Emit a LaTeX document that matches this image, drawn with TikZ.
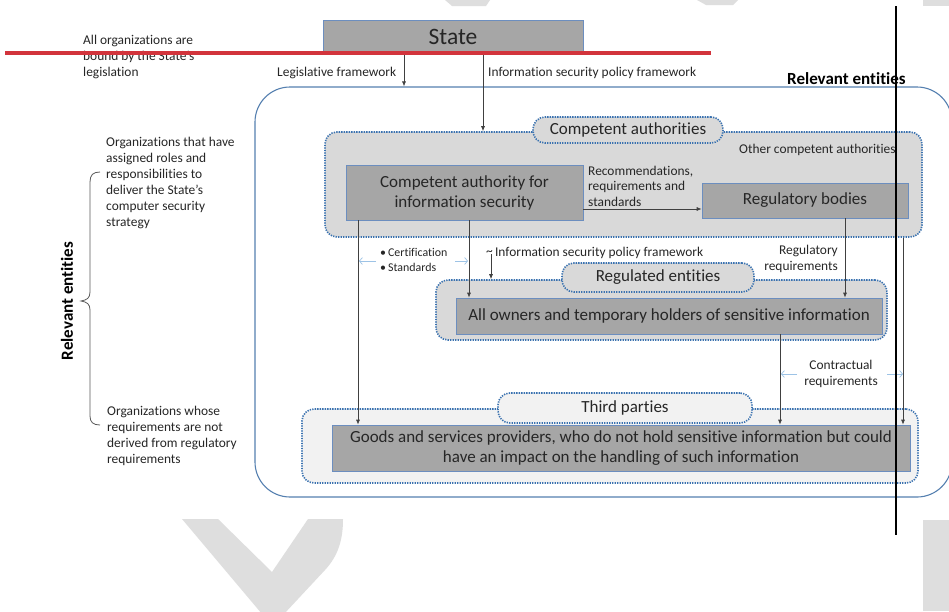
\documentclass[tikz,border=0pt]{standalone}
\usepackage{fontspec}
\setmainfont{Carlito}[Ligatures=NoCommon]
\usetikzlibrary{arrows.meta}
\definecolor{boxgray}{HTML}{A6A6A6}
\definecolor{groupgray}{HTML}{D9D9D9}
\definecolor{lightgroup}{HTML}{F2F2F2}
\definecolor{boxedge}{HTML}{6C8EBF}
\definecolor{dotblue}{HTML}{3A72B0}
\definecolor{outerblue}{HTML}{5580B0}
\definecolor{hintblue}{HTML}{9DC3E6}
\definecolor{wmgray}{HTML}{DEDEDE}
\definecolor{linegray}{HTML}{404040}
\definecolor{redline}{HTML}{D2343C}
\definecolor{ink}{HTML}{262626}
\tikzset{
  solidbox/.style={draw=boxedge, line width=0.7pt, fill=boxgray, inner sep=0pt, align=center,
    font=\fontsize{17}{20}\selectfont, text=ink},
  dotgroup/.style={draw=dotblue, line width=1.6pt, dash pattern=on 1.3pt off 1.2pt,
    rounded corners=12pt, inner sep=0pt},
  tabbox/.style={dotgroup, align=center, font=\fontsize{17}{20}\selectfont, text=ink},
  arr/.style={draw=linegray, line width=0.7pt, -{Latex[length=5pt,width=4pt]}},
  hint/.style={draw=hintblue, line width=0.7pt, -{Straight Barb[length=3pt,width=7pt]}},
  lbl/.style={inner sep=0pt, align=left, font=\fontsize{13.4}{16}\selectfont, text=ink},
  slbl/.style={inner sep=0pt, align=left, font=\fontsize{11.9}{15}\selectfont, text=ink},
}
\begin{document}
\begin{tikzpicture}[x=1pt, y=-1pt]
\useasboundingbox (0,0) rectangle (949,611);
\fill[white] (0,0) rectangle (949,611);

% faint watermark strokes in the background
\fill[wmgray] (182,519) -- (218,519) -- (272,572) -- (308,519) -- (343,519)
  .. controls (343,540) and (338,556) .. (325,570) -- (284,614) -- (262,614) -- cycle;
\fill[wmgray] (445,0) -- (490,0) -- (486,6) -- (452,6) -- cycle;
\fill[wmgray] (697,0) -- (738,0) -- (733,5) -- (706,5) -- cycle;
\fill[wmgray] (923,0) rectangle (949,6);
\fill[wmgray] (923,520) rectangle (949,611);

% outer frame of the relevant entities
\node[draw=outerblue, line width=1.1pt, rounded corners=35pt, minimum width=697pt,
  minimum height=410pt, inner sep=0pt] (big) at (603.5,292) {};

% State
\node[solidbox, minimum width=260pt, minimum height=33pt, font=\fontsize{23.5}{26}\selectfont]
  (state) at (453,36.5) {State};

% competent authorities group
\node[dotgroup, fill=groupgray, minimum width=597pt, minimum height=105pt] (cag) at (623.5,184.5) {};
\node[tabbox, fill=groupgray, minimum width=190pt, minimum height=26pt] (cat) at (628,130) {Competent authorities};
\node[solidbox, minimum width=237pt, minimum height=55pt] (cab) at (464.5,192.5)
  {Competent authority for\\information security};
\node[solidbox, minimum width=206pt, minimum height=35pt] (rb) at (805,200.5) {Regulatory bodies};
\node[lbl, anchor=base west] (oca) at (739,153) {Other competent authorities};

% regulated entities group
\node[dotgroup, fill=groupgray, minimum width=451pt, minimum height=60pt] (reg) at (661.5,310) {};
\node[tabbox, fill=groupgray, minimum width=192pt, minimum height=29pt] (regt) at (658,277.5) {Regulated entities};
\node[solidbox, minimum width=426pt, minimum height=36pt] (own) at (669,316)
  {All owners and temporary holders of sensitive information};

% third parties group
\node[dotgroup, fill=lightgroup, minimum width=616pt, minimum height=74pt] (tpg) at (610,446) {};
\node[tabbox, fill=lightgroup, minimum width=254pt, minimum height=30pt] (tpt) at (625,408) {Third parties};
\node[solidbox, minimum width=578pt, minimum height=46pt] (goods) at (621,448)
  {Goods and services providers, who do not hold sensitive information but could\\
   have an impact on the handling of such information};

% labels
\node[lbl, anchor=base west] (lfl) at (277,76) {Legislative framework};
\node[lbl, anchor=base west] (ispf) at (488,76) {Information security policy framework};
\node[inner sep=0pt, anchor=base west, font=\bfseries\fontsize{17}{20}\selectfont, text=black] (rel) at (787,84) {Relevant entities};
\node[lbl, anchor=north west] (allorg) at (83,35)
  {All organizations are\\bound by the State's\\legislation};
\node[lbl, anchor=north west, font=\fontsize{13.4}{15.3}\selectfont] (rec) at (588,166)
  {Recommendations,\\requirements and\\standards};
\node[slbl, anchor=north west] (cert) at (380,248)
  {\textbullet\,Certification\\\textbullet\,Standards};
\node[lbl, anchor=base west] (tilde) at (486,256) {\raisebox{1pt}{\textasciitilde}\,Information security policy framework};
\node[lbl, align=right, anchor=north east] (regreq) at (838,245)
  {Regulatory\\requirements};
\node[lbl, align=center, anchor=north] (conreq) at (841,360)
  {Contractual\\requirements};
\node[lbl, anchor=north west] (roles) at (106,137)
  {Organizations that have\\assigned roles and\\responsibilities to\\deliver the State's\\computer security\\strategy};
\node[lbl, anchor=north west] (whose) at (107,406)
  {Organizations whose\\requirements are not\\derived from regulatory\\requirements};
\node[inner sep=0pt, rotate=90, font=\bfseries\fontsize{17}{20}\selectfont, text=black] (relv) at (67,301) {Relevant entities};

% brace grouping the two kinds of organizations
\draw[draw=black!65, line width=0.8pt] (100,172) .. controls (93,172) and (90,175) .. (90,182)
  -- (90,292) .. controls (90,298) and (87,300) .. (81,301)
  .. controls (87,302) and (90,304) .. (90,310)
  -- (90,416) .. controls (90,422) and (93,425) .. (100,425);

% connectors
\draw[arr] (404,0 |- state.south) -- (404,0 |- big.north);
\draw[arr] (483,0 |- state.south) -- (483,0 |- cag.north);
\draw[arr] (cab.east |- 0,209) -- (rb.west |- 0,209);
\draw[arr] (358,0 |- cab.south) -- (358,0 |- goods.north);
\draw[arr] (469,0 |- cab.south) -- (469,0 |- own.north);
\coordinate (tstart) at (491,254);
\draw[arr] (tstart) -- (491,0 |- reg.north);
\draw[arr] (845,0 |- rb.south) -- (845,0 |- own.north);
\draw[arr] (780,0 |- own.south) -- (780,0 |- goods.north);
\draw[arr] (903,0 |- cag.south) -- (903,0 |- goods.north);

% light hint arrows beside the side labels
\draw[hint] (376,261) -- (359,261);
\draw[hint] (455,261) -- (468,261);
\draw[hint] (797,374) -- (781,374);
\draw[hint] (887,374) -- (903,374);

% marking strokes over the drawing
\draw[redline, line width=4pt] (5,53) -- (711,53);
\draw[black, line width=2pt] (896,6) -- (896,535);
\end{tikzpicture}
\end{document}
